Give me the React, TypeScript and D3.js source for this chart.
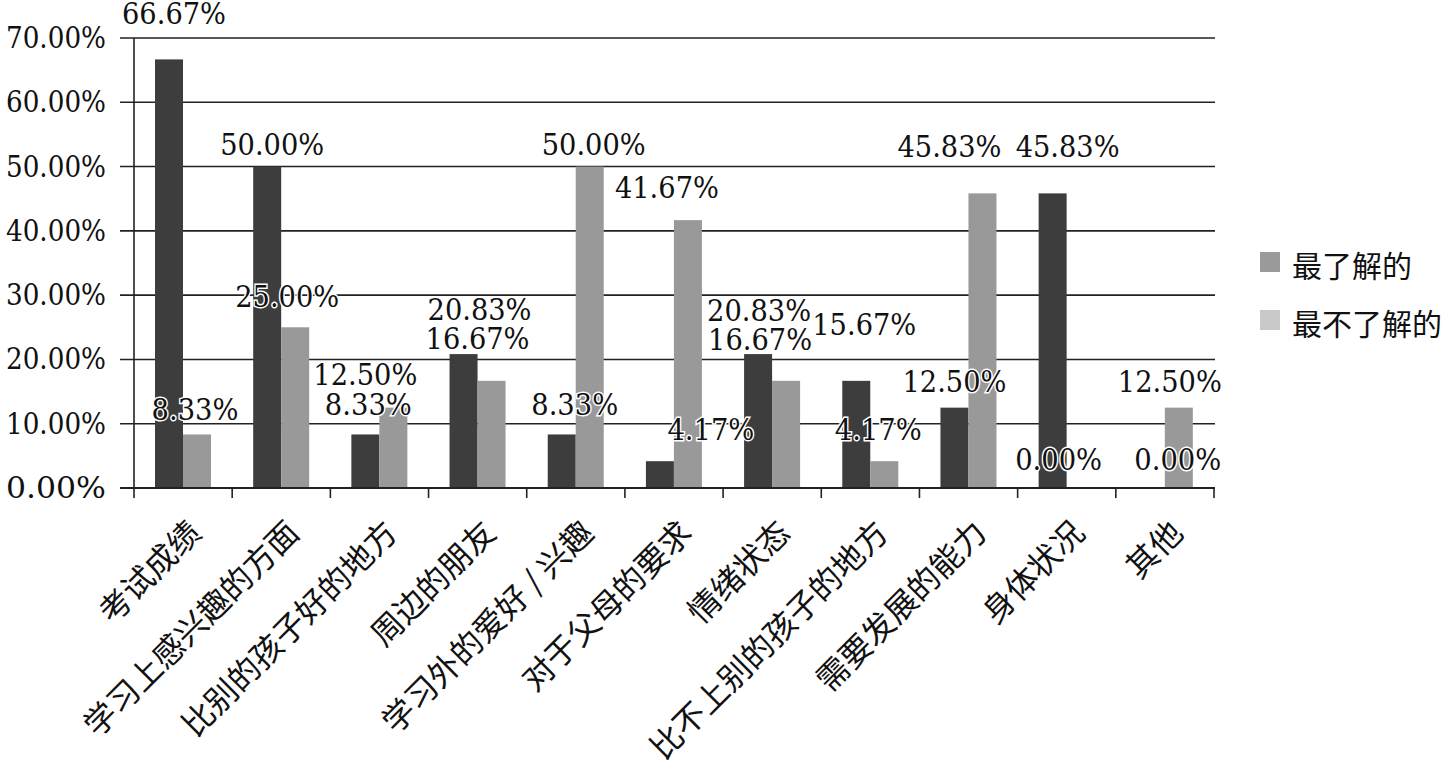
import React from "react";
import * as d3 from "d3";

const categories = [
  "考试成绩",
  "学习上感兴趣的方面",
  "比别的孩子好的地方",
  "周边的朋友",
  "学习外的爱好 / 兴趣",
  "对于父母的要求",
  "情绪状态",
  "比不上别的孩子的地方",
  "需要发展的能力",
  "身体状况",
  "其他",
];
const seriesNames = ["最了解的", "最不了解的"];
const mostKnown = [66.67, 50.0, 8.33, 20.83, 8.33, 4.17, 20.83, 16.67, 12.5, 45.83, 0.0];
const leastKnown = [8.33, 25.0, 12.5, 16.67, 50.0, 41.67, 16.67, 4.17, 45.83, 0.0, 12.5];
// label texts as printed in the source (one label reads 15.67%)
const mostKnownLabels = ["66.67%", "50.00%", "8.33%", "20.83%", "8.33%", "4.17%", "20.83%", "15.67%", "12.50%", "45.83%", "0.00%"];
const leastKnownLabels = ["8.33%", "25.00%", "12.50%", "16.67%", "50.00%", "41.67%", "16.67%", "4.17%", "45.83%", "0.00%", "12.50%"];
const yTicks = [0, 10, 20, 30, 40, 50, 60, 70];

// layout: label offsets (px) relative to bar centre / bar top
const mostLabelOffsets: [number, number][] = [
  [5, -45], [5, -22], [3, -29], [16, -44], [13, -29], [51, -31], [1, -43], [8, -56], [0, -26], [15, -46], [27, -28],
];
const leastLabelOffsets: [number, number][] = [
  [-2, -24], [-8, -30], [-28, -33], [-14, -42], [4, -22], [-21, -32], [-26, -41], [-6, -31], [-33, -46], [-22, -28], [-9, -26],
];

const W = 1446;
const H = 777;
const left = 134;
const right = 1214;
const top = 38;
const bottom = 488;

const DARK = "#3d3d3d";
const LIGHT = "#999999";
const LEGEND_COLORS = ["#9a9a9a", "#c9c9c9"];
const SERIF = "'DejaVu Serif', serif";
const CJK = "'Noto Sans CJK SC', sans-serif";

export default function App() {
  const x = d3.scaleBand<string>().domain(categories).range([left, right]).paddingInner(0).paddingOuter(0);
  const bw = x.bandwidth();
  const sub = d3.scaleBand<string>().domain(seriesNames).range([21, 77]);
  const y = d3.scaleLinear().domain([0, 70]).range([bottom, top]);
  const series = [mostKnown, leastKnown];
  const colors = [DARK, LIGHT];
  const labelTexts = [mostKnownLabels, leastKnownLabels];
  const offsets = [mostLabelOffsets, leastLabelOffsets];

  return (
    <svg width={W} height={H} style={{ position: "absolute", left: 0, top: 0, background: "#fff" }}>
      <rect x={0} y={0} width={W} height={H} fill="#fff" />
      {yTicks.map((t) => (
        <line key={"g" + t} x1={120} x2={right + 1} y1={y(t)} y2={y(t)} stroke="#222" strokeWidth={1.6} />
      ))}
      {yTicks.map((t) => (
        <text
          key={"yl" + t}
          x={106}
          y={y(t)}
          textAnchor="end"
          dominantBaseline="central"
          fontFamily={SERIF}
          fontSize={29}
          textLength={100}
          lengthAdjust="spacingAndGlyphs"
          fill="#111"
        >
          {d3.format(".2f")(t) + "%"}
        </text>
      ))}
      {series.map((vals, si) =>
        vals.map((v, i) => (
          <rect
            key={"b" + si + "-" + i}
            x={(x(categories[i]) as number) + (sub(seriesNames[si]) as number)}
            y={y(v)}
            width={sub.bandwidth()}
            height={bottom - y(v)}
            fill={colors[si]}
          />
        ))
      )}
      <line x1={left} x2={left} y1={top} y2={bottom} stroke="#222" strokeWidth={1.6} />
      <line x1={120} x2={right + 1} y1={bottom} y2={bottom} stroke="#222" strokeWidth={1.8} />
      {d3.range(categories.length + 1).map((i) => {
        const xx = left + i * bw;
        return <line key={"xt" + i} x1={xx} x2={xx} y1={bottom} y2={bottom + 10} stroke="#222" strokeWidth={1.6} />;
      })}
      {series.map((vals, si) =>
        vals.map((v, i) => {
          const cx = (x(categories[i]) as number) + (sub(seriesNames[si]) as number) + sub.bandwidth() / 2;
          const [dx, dy] = offsets[si][i];
          const txt = labelTexts[si][i];
          return (
            <text
              key={"dl" + si + "-" + i}
              x={cx + dx}
              y={y(v) + dy}
              textAnchor="middle"
              dominantBaseline="central"
              fontFamily={SERIF}
              fontSize={29}
              textLength={txt.length === 6 ? 104 : 87}
              lengthAdjust="spacingAndGlyphs"
              fill="#111"
              stroke="#fff"
              strokeWidth={3}
              paintOrder="stroke"
            >
              {txt}
            </text>
          );
        })
      )}
      {categories.map((c) => {
        const cx = (x(c) as number) + bw / 2;
        return (
          <text
            key={"cl" + c}
            transform={`translate(${cx + 10},${525}) rotate(-45)`}
            textAnchor="end"
            dominantBaseline="central"
            fontFamily={CJK}
            fontSize={32}
            fill="#111"
          >
            {c}
          </text>
        );
      })}
      {seriesNames.map((n, i) => (
        <g key={"lg" + n} transform={`translate(1260,${252 + i * 58})`}>
          <rect x={0} y={0} width={20} height={20} fill={LEGEND_COLORS[i]} />
          <text x={32} y={12} dominantBaseline="central" fontFamily={CJK} fontSize={30} fill="#111">
            {n}
          </text>
        </g>
      ))}
    </svg>
  );
}
